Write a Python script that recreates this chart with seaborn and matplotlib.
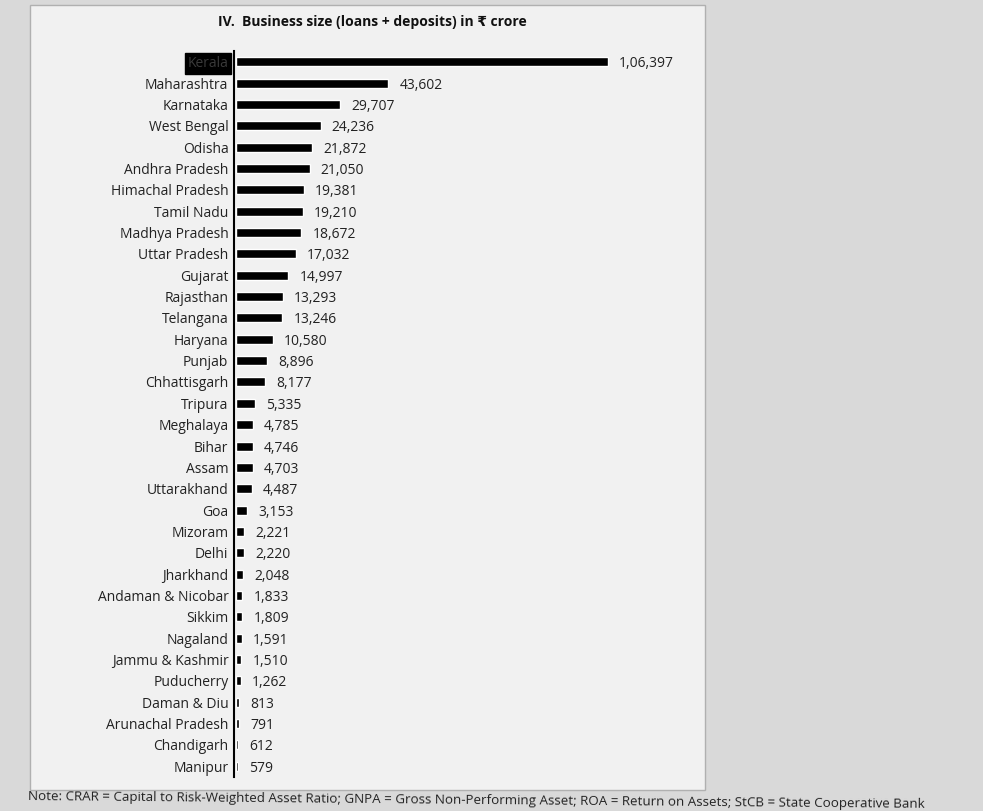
import matplotlib
matplotlib.use("Agg")
import matplotlib.pyplot as plt
import seaborn as sns
import pandas as pd
from matplotlib.patches import Rectangle

states = ["Kerala", "Maharashtra", "Karnataka", "West Bengal", "Odisha", "Andhra Pradesh",
          "Himachal Pradesh", "Tamil Nadu", "Madhya Pradesh", "Uttar Pradesh", "Gujarat",
          "Rajasthan", "Telangana", "Haryana", "Punjab", "Chhattisgarh", "Tripura",
          "Meghalaya", "Bihar", "Assam", "Uttarakhand", "Goa", "Mizoram", "Delhi",
          "Jharkhand", "Andaman & Nicobar", "Sikkim", "Nagaland", "Jammu & Kashmir",
          "Puducherry", "Daman & Diu", "Arunachal Pradesh", "Chandigarh", "Manipur"]
business = [106397, 43602, 29707, 24236, 21872, 21050, 19381, 19210, 18672, 17032, 14997,
            13293, 13246, 10580, 8896, 8177, 5335, 4785, 4746, 4703, 4487, 3153, 2221, 2220,
            2048, 1833, 1809, 1591, 1510, 1262, 813, 791, 612, 579]

title = "IV.  Business size (loans + deposits) in \u20b9 crore"
note = ("Note: CRAR = Capital to Risk-Weighted Asset Ratio; GNPA = Gross Non-Performing Asset; "
        "ROA = Return on Assets; StCB = State Cooperative Bank")

def indian_fmt(v):
    s = str(int(v))
    if len(s) <= 3:
        return s
    last3 = s[-3:]
    rest = s[:-3]
    groups = []
    while len(rest) > 2:
        groups.insert(0, rest[-2:])
        rest = rest[:-2]
    if rest:
        groups.insert(0, rest)
    return ",".join(groups) + "," + last3

df = pd.DataFrame({"state": states, "value": business})

sns.set_theme(style="white")
plt.rcParams["font.family"] = ["Open Sans", "DejaVu Sans"]

fig = plt.figure(figsize=(9.83, 8.11), dpi=100)
fig.patch.set_facecolor("#d9d9d9")
fig.patches.append(Rectangle((30 / 983, 1 - 790 / 811), 675 / 983, 785 / 811,
                             transform=fig.transFigure, facecolor="#f1f1f1",
                             edgecolor="#b0b0b0", linewidth=1, zorder=-5))

ax = fig.add_axes([234 / 983, 1 - 777 / 811, 449 / 983, (777 - 51) / 811])
ax.set_zorder(2)
ax.set_facecolor("none")
sns.barplot(data=df, y="state", x="value", orient="h", color="black",
            width=0.42, ax=ax, saturation=1)
ax.set_xlim(-600, 128000)
ax.set_ylim(len(states) - 0.5, -0.5)
ax.set_xlabel("")
ax.set_ylabel("")
ax.set_xticks([])
for s in ["top", "right", "bottom"]:
    ax.spines[s].set_visible(False)
ax.spines["left"].set_color("black")
ax.spines["left"].set_linewidth(1.5)
ax.tick_params(axis="y", length=0, pad=4, labelsize=10, labelcolor="#222222")

for lbl in ax.get_yticklabels():
    if lbl.get_text() == "Kerala":
        lbl.set_color("#3a3a3a")
        lbl.set_bbox(dict(facecolor="black", edgecolor="black", pad=2))

for i, v in enumerate(business):
    ax.annotate(indian_fmt(v), xy=(v, i), xytext=(8, 0), textcoords="offset points",
                va="center_baseline", ha="left", fontsize=10, color="#222222")

fig.text(372 / 983, 1 - 22 / 811, title, ha="center", va="center",
         fontsize=10, fontweight="bold", color="#111111", zorder=3)
fig.text(28 / 983, 1 - 800 / 811, note, ha="left", va="center",
         fontsize=9.6, color="#222222", rotation=-0.5, zorder=3)

fig.savefig("out.png", dpi=100, facecolor=fig.get_facecolor())
